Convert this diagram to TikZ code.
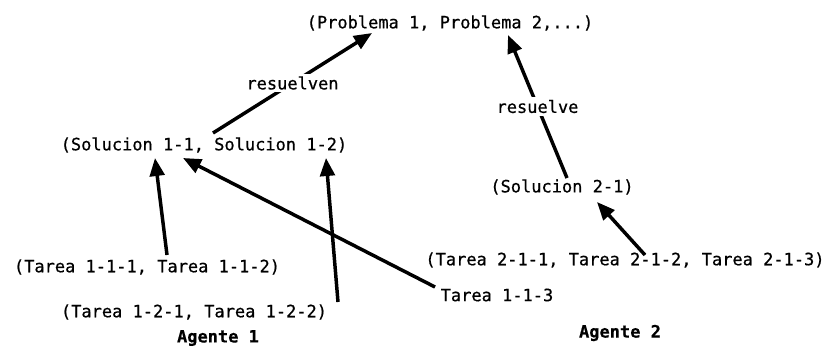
\documentclass[tikz,border=0pt]{standalone}
\usepackage{fontspec}
\setmonofont[FakeBold=0.6]{DejaVu Sans Mono}
\usetikzlibrary{arrows.meta,calc}
\begin{document}
\begin{tikzpicture}[x=0.75pt, y=-0.75pt,
    every node/.style={font=\ttfamily\fontsize{12.75}{15}\selectfont, inner sep=0pt},
    flecha/.style={line width=2.6pt, -{Triangle[length=13.5pt,width=11pt]}},
    etiqueta/.style={fill=white, inner sep=2pt}]
    \useasboundingbox (0,0) rectangle (832,351);

    % Problemas y soluciones
    \node (prob) at (450,23) {(Problema 1, Problema 2,...)};
    \node (sol1) at (204,145) {(Solucion 1-1, Solucion 1-2)};
    \node (sol2) at (562,187) {(Solucion 2-1)};

    % Tareas
    \node (t11)  at (147,267) {(Tarea 1-1-1, Tarea 1-1-2)};
    \node (t12)  at (194,312) {(Tarea 1-2-1, Tarea 1-2-2)};
    \node (t113) at (497,295) {Tarea 1-1-3};
    \node (t21)  at (625,260) {(Tarea 2-1-1, Tarea 2-1-2, Tarea 2-1-3)};

    % Agentes
    \node[font=\ttfamily\bfseries\fontsize{12.75}{15}\selectfont] (ag1) at (218,338) {Agente 1};
    \node[font=\ttfamily\bfseries\fontsize{12.75}{15}\selectfont] (ag2) at (620,333) {Agente 2};

    % Flechas
    \draw[flecha] ($(sol1)+(9,-12)$) -- node[etiqueta] {resuelven} ($(prob)+(-78,10)$);
    \draw[flecha] ($(sol2)+(5,-9)$) -- node[etiqueta] {resuelve} ($(prob)+(58,12)$);
    \draw[flecha] ($(t11)+(20,-12)$) -- ($(sol1)+(-49,13)$);
    \draw[flecha] ($(t113)+(-62,-8)$) -- ($(sol1)+(-21,13)$);
    \draw[flecha] ($(t12)+(144,-10)$) -- ($(sol1)+(122,13)$);
    \draw[flecha] ($(t21)+(20,-5)$) -- ($(sol2)+(35,15)$);
\end{tikzpicture}
\end{document}
